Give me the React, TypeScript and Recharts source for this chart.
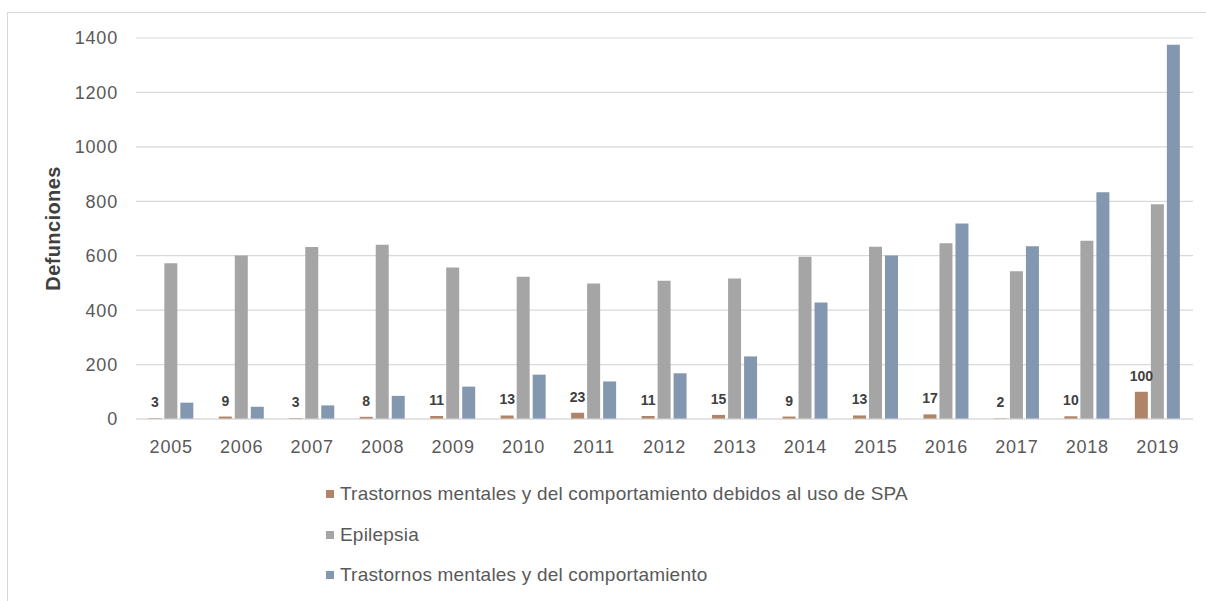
import React from "react";
import { Bar, BarChart, CartesianGrid, LabelList, Legend, XAxis, YAxis } from "recharts";

const YEARS = ["2005", "2006", "2007", "2008", "2009", "2010", "2011", "2012", "2013", "2014", "2015", "2016", "2017", "2018", "2019"];
const SPA = [3, 9, 3, 8, 11, 13, 23, 11, 15, 9, 13, 17, 2, 10, 100];
const EPILEPSIA = [572, 601, 632, 640, 557, 523, 498, 508, 516, 596, 633, 646, 543, 655, 789];
const MENTALES = [60, 45, 50, 85, 119, 163, 138, 168, 230, 428, 601, 718, 635, 833, 1375];
const Y_TICKS = [0, 200, 400, 600, 800, 1000, 1200, 1400];

const SERIES = [
  { key: "spa", name: "Trastornos mentales y del comportamiento debidos al uso de SPA", color: "#B08468" },
  { key: "epi", name: "Epilepsia", color: "#A5A5A5" },
  { key: "tmc", name: "Trastornos mentales y del comportamiento", color: "#8497B0" },
];

const data = YEARS.map((year, i) => ({ year, spa: SPA[i], epi: EPILEPSIA[i], tmc: MENTALES[i] }));

const FONT = "'Liberation Sans', Arial, sans-serif";
const tick = { fill: "#595959", fontSize: 18, fontFamily: FONT, letterSpacing: 0.8 };

function LegendBox() {
  return (
    <div style={{ fontFamily: FONT, fontSize: 19, letterSpacing: 0.2, color: "#595959" }}>
      {SERIES.map((s) => (
        <div key={s.key} style={{ display: "flex", alignItems: "center", height: 40.5 }}>
          <span style={{ display: "inline-block", width: 8, height: 8, background: s.color, marginRight: 6 }} />
          <span>{s.name}</span>
        </div>
      ))}
    </div>
  );
}

export default function App() {
  return (
    <div style={{ position: "absolute", left: 0, top: 0, width: 1206, height: 601, background: "#fff", overflow: "hidden" }}>
      <div
        style={{
          position: "absolute",
          left: 7,
          top: 12,
          width: 1198,
          height: 588,
          borderLeft: "1px solid #d9d9d9",
          borderTop: "1px solid #d9d9d9",
        }}
      />
      <div style={{ position: "absolute", left: 0, top: 0 }}>
        <BarChart
          width={1206}
          height={601}
          data={data}
          margin={{ top: 38, right: 13, bottom: 152, left: 0 }}
          barCategoryGap="17.5%"
          barGap={3}
        >
          <CartesianGrid vertical={false} stroke="#d9d9d9" strokeWidth={1.2} />
          <XAxis
            dataKey="year"
            height={30}
            tickLine={false}
            tickSize={0}
            tickMargin={21}
            axisLine={{ stroke: "#d9d9d9", strokeWidth: 1.2 }}
            tick={tick}
          />
          <YAxis
            width={136}
            domain={[0, 1400]}
            ticks={Y_TICKS}
            axisLine={false}
            tickLine={false}
            tickSize={0}
            tickMargin={18}
            tick={tick}
            label={{
              value: "Defunciones",
              content: ({ viewBox }: any) => {
                const cx = 53;
                const cy = viewBox.y + viewBox.height / 2;
                return (
                  <text
                    x={cx}
                    y={cy}
                    transform={`rotate(-90, ${cx}, ${cy})`}
                    textAnchor="middle"
                    dominantBaseline="central"
                    fill="#404040"
                    fontFamily={FONT}
                    fontWeight="bold"
                    fontSize={20}
                    letterSpacing={0.4}
                  >
                    Defunciones
                  </text>
                );
              },
            }}
          />
          <Legend
            layout="vertical"
            align="center"
            verticalAlign="middle"
            content={() => <LegendBox />}
            wrapperStyle={{ left: 326, top: 474, width: 760 }}
          />
          {SERIES.map((s) => (
            <Bar key={s.key} dataKey={s.key} name={s.name} fill={s.color} isAnimationActive={false}>
              {s.key === "spa" && (
                <LabelList
                  dataKey="spa"
                  position="top"
                  offset={11}
                  fill="#404040"
                  fontFamily={FONT}
                  fontWeight="bold"
                  fontSize={14}
                />
              )}
            </Bar>
          ))}
        </BarChart>
      </div>
    </div>
  );
}
